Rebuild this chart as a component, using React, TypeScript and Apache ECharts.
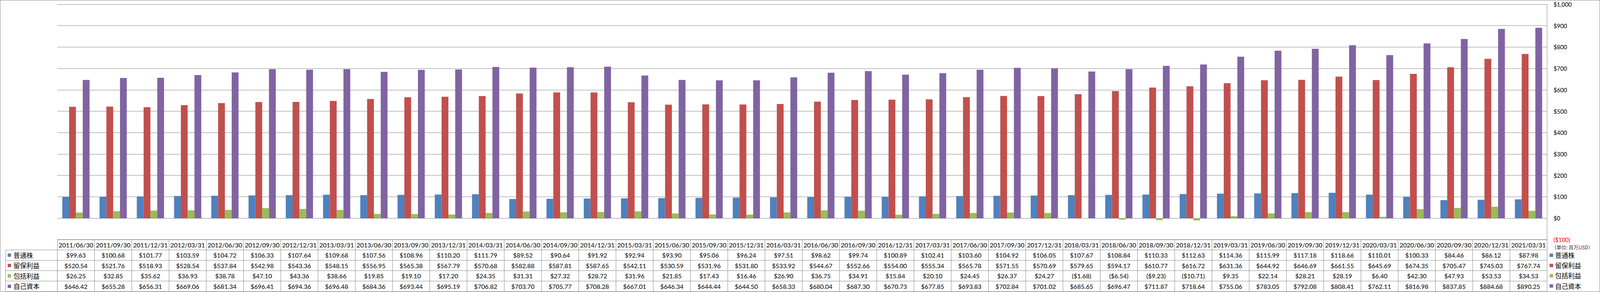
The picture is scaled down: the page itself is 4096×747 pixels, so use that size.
import React, { useEffect, useRef } from "react";
import * as echarts from "echarts";

const categories = [
  "2011/06/30", "2011/09/30", "2011/12/31", "2012/03/31", "2012/06/30", "2012/09/30", "2012/12/31", "2013/03/31",
  "2013/06/30", "2013/09/30", "2013/12/31", "2014/03/31", "2014/06/30", "2014/09/30", "2014/12/31", "2015/03/31",
  "2015/06/30", "2015/09/30", "2015/12/31", "2016/03/31", "2016/06/30", "2016/09/30", "2016/12/31", "2017/03/31",
  "2017/06/30", "2017/09/30", "2017/12/31", "2018/03/31", "2018/06/30", "2018/09/30", "2018/12/31", "2019/03/31",
  "2019/06/30", "2019/09/30", "2019/12/31", "2020/03/31", "2020/06/30", "2020/09/30", "2020/12/31", "2021/03/31",
];

const commonStock = [
  99.63, 100.68, 101.77, 103.59, 104.72, 106.33, 107.64, 109.68, 107.56, 108.96, 110.2, 111.79, 89.52, 90.64,
  91.92, 92.94, 93.9, 95.06, 96.24, 97.51, 98.62, 99.74, 100.89, 102.41, 103.6, 104.92, 106.05, 107.67, 108.84,
  110.33, 112.63, 114.36, 115.99, 117.18, 118.66, 110.01, 100.33, 84.46, 86.12, 87.98,
];

const retainedEarnings = [
  520.54, 521.76, 518.93, 528.54, 537.84, 542.98, 543.36, 548.15, 556.95, 565.38, 567.79, 570.68, 582.88, 587.81,
  587.65, 542.11, 530.59, 531.96, 531.8, 533.92, 544.67, 552.66, 554.0, 555.34, 565.78, 571.55, 570.69, 579.65,
  594.17, 610.77, 616.72, 631.36, 644.92, 646.69, 661.55, 645.69, 674.35, 705.47, 745.03, 767.74,
];

const comprehensiveIncome = [
  26.25, 32.85, 35.62, 36.93, 38.78, 47.1, 43.36, 38.66, 19.85, 19.1, 17.2, 24.35, 31.31, 27.32, 28.72, 31.96,
  21.85, 17.43, 16.46, 26.9, 36.75, 34.91, 15.84, 20.1, 24.45, 26.37, 24.27, -1.68, -6.54, -9.23, -10.71, 9.35,
  22.14, 28.21, 28.19, 6.4, 42.3, 47.93, 53.53, 34.53,
];

const equity = [
  646.42, 655.28, 656.31, 669.06, 681.34, 696.41, 694.36, 696.48, 684.36, 693.44, 695.19, 706.82, 703.7, 705.77,
  708.28, 667.01, 646.34, 644.44, 644.5, 658.33, 680.04, 687.3, 670.73, 677.85, 693.83, 702.84, 701.02, 685.65,
  696.47, 711.87, 718.64, 755.06, 783.05, 792.08, 808.41, 762.11, 816.98, 837.85, 884.68, 890.25,
];

const seriesNames = ["普通株", "留保利益", "包括利益", "自己資本"];
const seriesValues = [commonStock, retainedEarnings, comprehensiveIncome, equity];
const seriesColors = ["#4F81BD", "#C0504D", "#9BBB59", "#8064A2"];

const yMin = -100;
const yMax = 1000;
const yInterval = 100;
const unitLabel = "（単位: 百万USD）";

// layout (px in the 4096x747 window)
const W = 4096;
const H = 747;
const GL = 146.7;
const GR = 3960.7;
const GT = 10.9;
const GB = 612.9;
const rowYs = [612.9, 639.4, 666.1, 692.3, 719.1, 745.8];
const rowHeaderLeft = 14.4;
const LINE = "#868686";
const NUM_FONT = "Lato, 'Noto Sans', sans-serif";
const CJK_FONT = "'Noto Sans CJK JP', 'Noto Sans', sans-serif";

function money(v: number): string {
  const s = "$" + Math.abs(v).toFixed(2);
  return v < 0 ? "(" + s + ")" : s;
}

function axisMoney(v: number): string {
  const s = String(Math.abs(v)).replace(/\B(?=(\d{3})+(?!\d))/g, ",");
  return v < 0 ? "{neg|($" + s + ")}" : "$" + s;
}

function buildTable(): any[] {
  const els: any[] = [];
  const n = categories.length;
  const colW = (GR - GL) / n;
  const line = (x1: number, y1: number, x2: number, y2: number) => ({
    type: "line",
    silent: true,
    shape: { x1, y1, x2, y2 },
    style: { stroke: LINE, lineWidth: 1 },
  });
  els.push(line(GL, rowYs[0], GR, rowYs[0]));
  for (let r = 1; r < rowYs.length; r++) els.push(line(rowHeaderLeft, rowYs[r], GR, rowYs[r]));
  els.push(line(rowHeaderLeft, rowYs[1], rowHeaderLeft, rowYs[rowYs.length - 1]));
  for (let c = 0; c <= n; c++) {
    const x = GL + c * colW;
    els.push(line(x, rowYs[0], x, rowYs[rowYs.length - 1]));
  }
  categories.forEach((cat, i) => {
    els.push({
      type: "text",
      silent: true,
      x: GL + (i + 0.5) * colW,
      y: (rowYs[0] + rowYs[1]) / 2,
      style: { text: cat, fill: "#000", fontSize: 16, fontFamily: NUM_FONT, align: "center", verticalAlign: "middle" },
    });
  });
  seriesNames.forEach((name, r) => {
    const cy = (rowYs[r + 1] + rowYs[r + 2]) / 2;
    els.push({
      type: "rect",
      silent: true,
      shape: { x: 19.7, y: cy - 4.2, width: 8.6, height: 8.4 },
      style: { fill: seriesColors[r] },
    });
    els.push({
      type: "text",
      silent: true,
      x: 34.4,
      y: cy,
      style: { text: name, fill: "#000", fontSize: 16.7, fontFamily: CJK_FONT, align: "left", verticalAlign: "middle" },
    });
    seriesValues[r].forEach((v, i) => {
      els.push({
        type: "text",
        silent: true,
        x: GL + (i + 0.5) * colW,
        y: cy,
        style: { text: money(v), fill: "#000", fontSize: 16, fontFamily: NUM_FONT, align: "center", verticalAlign: "middle" },
      });
    });
  });
  els.push({
    type: "text",
    silent: true,
    x: 3972,
    y: 632,
    style: { text: unitLabel, fill: "#333", fontSize: 12.5, fontFamily: CJK_FONT, align: "left", verticalAlign: "middle" },
  });
  els.push({
    type: "rect",
    silent: true,
    shape: { x: 0.5, y: 0.5, width: W - 1, height: 745.5 },
    style: { fill: "none", stroke: LINE, lineWidth: 1 },
  });
  return els;
}

export default function App() {
  const ref = useRef<HTMLDivElement>(null);
  useEffect(() => {
    if (!ref.current) return;
    const chart = echarts.init(ref.current, undefined, { renderer: "svg" });
    chart.setOption({
      animation: false,
      backgroundColor: "#fff",
      grid: { left: GL, right: W - GR, top: GT, bottom: H - GB, containLabel: false },
      legend: {
        orient: "vertical",
        left: 3967,
        top: 644,
        padding: 0,
        itemWidth: 9,
        itemHeight: 8.6,
        itemGap: 8.2,
        icon: "rect",
        data: seriesNames,
        textStyle: { fontSize: 16.7, fontFamily: CJK_FONT, color: "#000", lineHeight: 18 },
      },
      xAxis: {
        type: "category",
        data: categories,
        axisLine: { show: false },
        axisTick: { show: false },
        axisLabel: { show: false },
      },
      yAxis: {
        type: "value",
        position: "right",
        min: yMin,
        max: yMax,
        interval: yInterval,
        axisLine: { show: true, lineStyle: { color: LINE, width: 1 } },
        axisTick: { show: false },
        splitLine: { show: true, lineStyle: { color: LINE, width: 1 } },
        axisLabel: {
          margin: 16.2,
          align: "left",
          fontSize: 15,
          fontFamily: NUM_FONT,
          color: "#000",
          formatter: (v: number) => axisMoney(v),
          rich: { neg: { color: "#FF0000", fontSize: 15, fontFamily: NUM_FONT } },
        },
      },
      series: seriesNames.map((name, i) => ({
        name,
        type: "bar",
        data: seriesValues[i],
        itemStyle: { color: seriesColors[i] },
        barGap: "0%",
        barCategoryGap: "26.9%",
      })),
      graphic: buildTable(),
    });
    return () => chart.dispose();
  }, []);
  return <div ref={ref} style={{ position: "absolute", left: 0, top: 0, width: W, height: H }} />;
}
